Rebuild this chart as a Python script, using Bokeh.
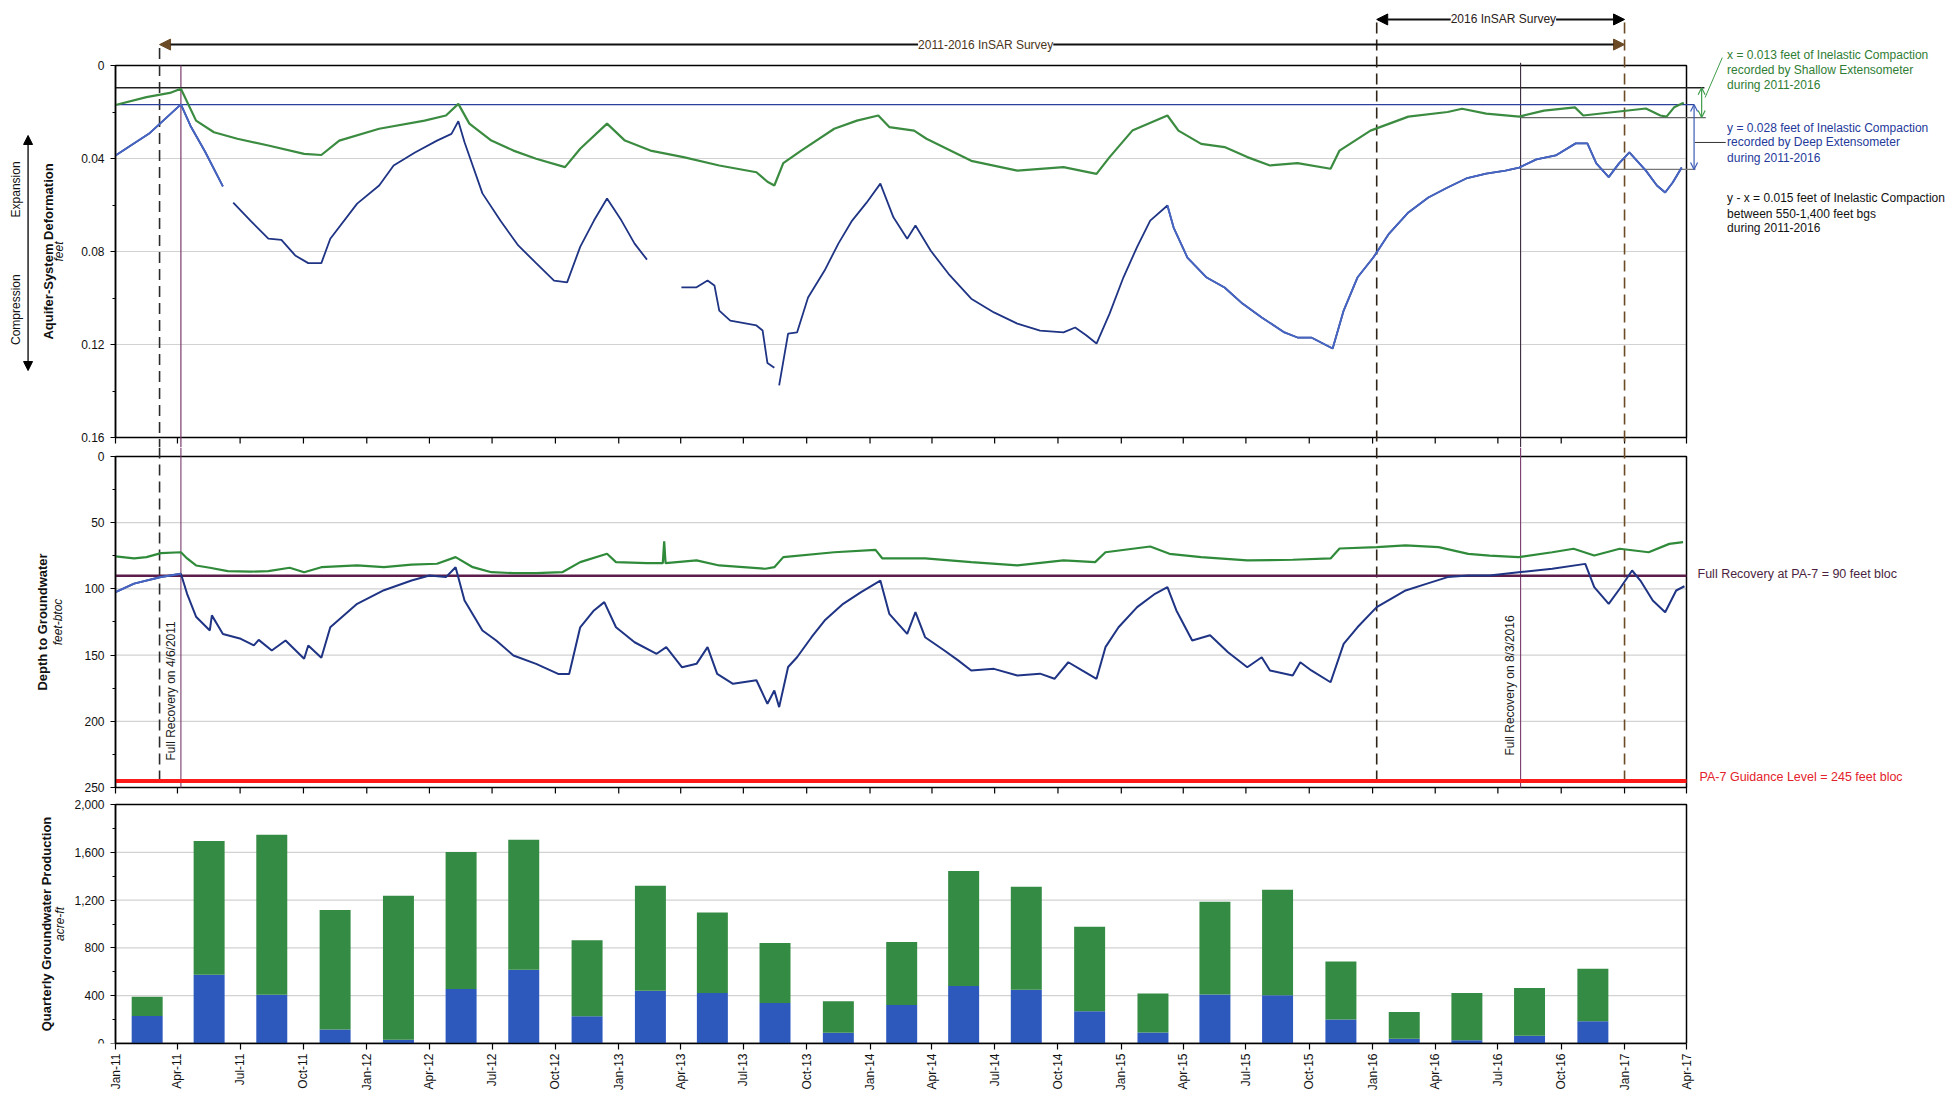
import math
import numpy as np
import pandas as pd
from bokeh.plotting import figure
from bokeh.layouts import column
from bokeh.models import (Range1d, Label, Arrow, NormalHead, OpenHead,
                          MonthsTicker, DatetimeTickFormatter, NumeralTickFormatter,
                          FixedTicker)
from bokeh.embed import file_html
from bokeh.resources import INLINE

# ---------------------------------------------------------------- data
# Top panel: aquifer-system deformation (feet), shallow extensometer
shallow_ext = [
    ("2011-01-01", 0.0170), ("2011-02-15", 0.0136), ("2011-03-21", 0.0118), ("2011-04-06", 0.0100),
    ("2011-04-28", 0.0237), ("2011-05-24", 0.0287), ("2011-06-27", 0.0315), ("2011-08-11", 0.0344),
    ("2011-10-02", 0.0380), ("2011-10-27", 0.0385), ("2011-11-22", 0.0323), ("2012-01-19", 0.0272),
    ("2012-03-25", 0.0237), ("2012-04-25", 0.0215), ("2012-05-13", 0.0165), ("2012-05-29", 0.0250),
    ("2012-06-30", 0.0323), ("2012-08-01", 0.0366), ("2012-09-03", 0.0401), ("2012-10-15", 0.0437),
    ("2012-11-06", 0.0358), ("2012-12-15", 0.0250), ("2013-01-10", 0.0323), ("2013-02-16", 0.0366),
    ("2013-04-05", 0.0394), ("2013-05-27", 0.0430), ("2013-07-20", 0.0459), ("2013-08-05", 0.0500),
    ("2013-08-15", 0.0516), ("2013-08-28", 0.0420), ("2013-09-23", 0.0366), ("2013-11-10", 0.0272),
    ("2013-12-13", 0.0237), ("2014-01-13", 0.0215), ("2014-01-29", 0.0265), ("2014-03-06", 0.0280),
    ("2014-03-24", 0.0315), ("2014-05-28", 0.0410), ("2014-08-03", 0.0452), ("2014-10-09", 0.0437),
    ("2014-11-26", 0.0466), ("2014-12-15", 0.0394), ("2015-01-17", 0.0280), ("2015-03-09", 0.0215),
    ("2015-03-25", 0.0280), ("2015-04-27", 0.0337), ("2015-05-31", 0.0351), ("2015-07-03", 0.0394),
    ("2015-08-05", 0.0430), ("2015-09-14", 0.0420), ("2015-11-01", 0.0444), ("2015-11-14", 0.0366),
    ("2015-12-29", 0.0280), ("2016-02-22", 0.0220), ("2016-04-19", 0.0200), ("2016-05-10", 0.0186),
    ("2016-06-14", 0.0207), ("2016-08-01", 0.0220), ("2016-09-06", 0.0194), ("2016-10-21", 0.0180),
    ("2016-11-02", 0.0215), ("2017-02-01", 0.0185), ("2017-02-22", 0.0215), ("2017-03-03", 0.0220),
    ("2017-03-14", 0.0180), ("2017-03-28", 0.0160),
]
# Top panel: deep extensometer (None = data gap)
deep_ext = [
    ("2011-01-01", 0.0387), ("2011-02-20", 0.0290), ("2011-04-06", 0.0167), ("2011-04-20", 0.0260),
    ("2011-05-11", 0.0370), ("2011-06-06", 0.0520), ("2011-06-14", None),
    ("2011-06-21", 0.0590), ("2011-07-16", 0.0667), ("2011-08-11", 0.0745), ("2011-08-30", 0.0750),
    ("2011-09-19", 0.0817), ("2011-10-08", 0.0850), ("2011-10-27", 0.0850), ("2011-11-09", 0.0745),
    ("2011-12-18", 0.0594), ("2012-01-19", 0.0516), ("2012-02-09", 0.0430), ("2012-03-11", 0.0374),
    ("2012-04-12", 0.0323), ("2012-05-03", 0.0294), ("2012-05-13", 0.0240), ("2012-05-22", 0.0330),
    ("2012-06-17", 0.0550), ("2012-07-13", 0.0667), ("2012-08-08", 0.0774), ("2012-09-03", 0.0850),
    ("2012-09-29", 0.0925), ("2012-10-18", 0.0933), ("2012-11-06", 0.0780), ("2012-11-26", 0.0667),
    ("2012-12-15", 0.0572), ("2013-01-05", 0.0667), ("2013-01-24", 0.0766), ("2013-02-11", 0.0835),
    ("2013-03-01", None),
    ("2013-04-02", 0.0954), ("2013-04-24", 0.0954), ("2013-05-10", 0.0925), ("2013-05-20", 0.0946),
    ("2013-05-27", 0.1054), ("2013-06-12", 0.1097), ("2013-07-20", 0.1118), ("2013-07-29", 0.1140),
    ("2013-08-05", 0.1280), ("2013-08-15", 0.1300), ("2013-08-18", None),
    ("2013-08-22", 0.1376), ("2013-09-04", 0.1153), ("2013-09-17", 0.1148), ("2013-10-03", 0.0998),
    ("2013-10-27", 0.0882), ("2013-11-16", 0.0766), ("2013-12-06", 0.0667), ("2013-12-27", 0.0590),
    ("2014-01-16", 0.0508), ("2014-02-04", 0.0653), ("2014-02-24", 0.0745), ("2014-03-08", 0.0688),
    ("2014-03-30", 0.0796), ("2014-04-25", 0.0896), ("2014-05-28", 0.1003), ("2014-06-30", 0.1062),
    ("2014-08-03", 0.1110), ("2014-09-05", 0.1140), ("2014-10-09", 0.1148), ("2014-10-26", 0.1127),
    ("2014-11-11", 0.1160), ("2014-11-26", 0.1196), ("2014-12-15", 0.1067), ("2015-01-04", 0.0912),
    ("2015-01-24", 0.0780), ("2015-02-12", 0.0667), ("2015-03-09", 0.0602), ("2015-03-18", 0.0697),
    ("2015-04-07", 0.0826), ("2015-05-05", 0.0912), ("2015-05-31", 0.0955), ("2015-06-26", 0.1024),
    ("2015-07-24", 0.1084), ("2015-08-26", 0.1148), ("2015-09-14", 0.1170), ("2015-10-04", 0.1170),
    ("2015-11-04", 0.1217), ("2015-11-20", 0.1054), ("2015-12-10", 0.0912), ("2016-01-02", 0.0826),
    ("2016-01-25", 0.0723), ("2016-02-22", 0.0632), ("2016-03-22", 0.0568), ("2016-04-19", 0.0525),
    ("2016-05-16", 0.0486), ("2016-06-14", 0.0465), ("2016-07-12", 0.0452), ("2016-08-01", 0.0439),
    ("2016-08-26", 0.0404), ("2016-09-23", 0.0387), ("2016-10-22", 0.0335), ("2016-11-08", 0.0335),
    ("2016-11-21", 0.0421), ("2016-12-09", 0.0480), ("2016-12-24", 0.0421), ("2017-01-08", 0.0374),
    ("2017-02-01", 0.0452), ("2017-02-17", 0.0516), ("2017-03-01", 0.0546), ("2017-03-12", 0.0503),
    ("2017-03-25", 0.0439),
]
deep_ext_light_periods = [("2011-01-01", "2011-06-10"), ("2015-03-09", "2017-04-01")]

# Middle panel: depth to groundwater (feet-btoc)
shallow_well = [
    ("2011-01-01", 75.5), ("2011-01-28", 77.0), ("2011-02-15", 76.0), ("2011-03-08", 73.0),
    ("2011-04-06", 72.3), ("2011-04-15", 77.0), ("2011-04-28", 82.3), ("2011-05-18", 84.0),
    ("2011-06-13", 86.6), ("2011-07-16", 87.0), ("2011-08-11", 86.6), ("2011-09-11", 84.0),
    ("2011-10-02", 87.4), ("2011-10-27", 83.6), ("2011-12-18", 82.3), ("2012-01-26", 83.6),
    ("2012-03-06", 81.6), ("2012-04-12", 81.0), ("2012-05-09", 76.0), ("2012-06-03", 83.6),
    ("2012-06-30", 87.4), ("2012-08-01", 88.1), ("2012-09-03", 88.1), ("2012-10-11", 87.4),
    ("2012-11-06", 79.8), ("2012-12-15", 73.5), ("2012-12-28", 79.8), ("2013-02-11", 80.6),
    ("2013-03-06", 80.5), ("2013-03-08", 64.0), ("2013-03-10", 80.5), ("2013-04-24", 78.5),
    ("2013-05-27", 82.3), ("2013-08-02", 84.8), ("2013-08-15", 83.6), ("2013-08-28", 76.0),
    ("2013-11-10", 72.3), ("2014-01-09", 70.5), ("2014-01-19", 77.0), ("2014-03-22", 77.0),
    ("2014-05-28", 79.8), ("2014-08-03", 82.3), ("2014-10-09", 78.5), ("2014-11-24", 79.8),
    ("2014-12-09", 72.3), ("2015-02-12", 68.0), ("2015-03-12", 73.5), ("2015-04-27", 76.0),
    ("2015-07-03", 78.5), ("2015-09-07", 78.0), ("2015-11-01", 77.0), ("2015-11-14", 69.5),
    ("2016-01-07", 68.5), ("2016-02-18", 67.2), ("2016-04-06", 68.5), ("2016-05-19", 73.5),
    ("2016-06-19", 74.8), ("2016-07-31", 76.0), ("2016-09-18", 72.3), ("2016-10-19", 69.7),
    ("2016-11-18", 74.8), ("2016-12-25", 69.7), ("2017-02-05", 72.3), ("2017-03-07", 66.0),
    ("2017-03-27", 64.7),
]
deep_well = [
    ("2011-01-01", 102.5), ("2011-01-28", 96.0), ("2011-03-08", 91.0), ("2011-04-06", 88.6),
    ("2011-04-15", 103.7), ("2011-04-28", 121.0), ("2011-05-18", 131.4), ("2011-05-21", 120.0),
    ("2011-06-06", 134.0), ("2011-07-02", 137.7), ("2011-07-21", 142.7), ("2011-07-28", 138.5),
    ("2011-08-16", 146.5), ("2011-09-05", 139.0), ("2011-10-02", 152.8), ("2011-10-08", 142.7),
    ("2011-10-27", 152.0), ("2011-11-09", 129.0), ("2011-12-18", 111.3), ("2012-01-26", 101.0),
    ("2012-03-06", 93.7), ("2012-04-01", 89.9), ("2012-04-25", 91.1), ("2012-05-09", 83.6),
    ("2012-05-22", 108.8), ("2012-06-17", 131.4), ("2012-07-07", 139.0), ("2012-08-01", 150.3),
    ("2012-09-03", 156.6), ("2012-10-05", 164.2), ("2012-10-21", 164.2), ("2012-11-06", 129.0),
    ("2012-11-26", 116.3), ("2012-12-11", 110.0), ("2012-12-28", 129.0), ("2013-01-24", 140.3),
    ("2013-02-25", 149.0), ("2013-03-11", 144.0), ("2013-04-03", 159.2), ("2013-04-24", 156.6),
    ("2013-05-10", 144.0), ("2013-05-24", 164.2), ("2013-06-16", 171.7), ("2013-07-20", 169.0),
    ("2013-08-05", 186.8), ("2013-08-15", 176.7), ("2013-08-22", 189.3), ("2013-09-04", 159.0),
    ("2013-09-17", 151.6), ("2013-10-08", 136.5), ("2013-10-27", 123.9), ("2013-11-23", 111.3),
    ("2013-12-19", 102.5), ("2014-01-16", 93.7), ("2014-01-29", 118.8), ("2014-02-24", 134.0),
    ("2014-03-08", 117.6), ("2014-03-22", 136.5), ("2014-04-19", 146.5), ("2014-05-09", 154.0),
    ("2014-05-28", 161.6), ("2014-06-30", 160.4), ("2014-08-03", 165.4), ("2014-09-05", 164.0),
    ("2014-09-26", 167.9), ("2014-10-16", 155.4), ("2014-11-05", 161.6), ("2014-11-26", 167.9),
    ("2014-12-09", 144.0), ("2014-12-28", 129.0), ("2015-01-24", 113.8), ("2015-02-19", 103.7),
    ("2015-03-09", 98.7), ("2015-03-22", 116.3), ("2015-04-14", 139.0), ("2015-05-10", 135.0),
    ("2015-06-05", 147.8), ("2015-07-03", 159.2), ("2015-07-24", 151.6), ("2015-08-05", 161.6),
    ("2015-09-07", 165.4), ("2015-09-18", 155.4), ("2015-10-04", 161.6), ("2015-11-01", 170.5),
    ("2015-11-20", 141.5), ("2015-12-10", 129.0), ("2016-01-07", 113.8), ("2016-02-18", 101.2),
    ("2016-03-19", 96.2), ("2016-04-19", 91.1), ("2016-05-19", 89.9), ("2016-06-19", 89.9),
    ("2016-07-31", 87.4), ("2016-09-18", 84.8), ("2016-11-05", 81.1), ("2016-11-18", 98.7),
    ("2016-12-09", 111.3), ("2016-12-25", 99.9), ("2017-01-12", 86.1), ("2017-01-24", 93.7),
    ("2017-02-11", 108.8), ("2017-03-01", 117.6), ("2017-03-17", 101.2), ("2017-03-29", 98.0),
]
deep_well_light_periods = [("2011-01-01", "2011-04-06")]

# Bottom panel: quarterly groundwater production (acre-ft), Q1 2011 .. Q4 2016
quarters = ["2011Q1", "2011Q2", "2011Q3", "2011Q4", "2012Q1", "2012Q2", "2012Q3", "2012Q4",
            "2013Q1", "2013Q2", "2013Q3", "2013Q4", "2014Q1", "2014Q2", "2014Q3", "2014Q4",
            "2015Q1", "2015Q2", "2015Q3", "2015Q4", "2016Q1", "2016Q2", "2016Q3", "2016Q4"]
prod_total = [392, 1694, 1747, 1117, 1236, 1603, 1706, 864, 1320, 1097, 842, 353,
              850, 1444, 1311, 978, 419, 1186, 1286, 686, 264, 422, 464, 625]
prod_blue = [231, 575, 408, 117, 31, 456, 617, 228, 442, 422, 339, 89,
             322, 481, 450, 269, 92, 411, 403, 200, 39, 28, 64, 186]

# Reference levels / events
full_recovery_ft = 90
guidance_level_ft = 245
survey_dates = ["2011-03-06", "2016-01-07", "2017-01-01"]
recovery_dates = ["2011-04-06", "2016-08-03"]
shallow_top, shallow_bottom = 0.0096, 0.0224   # x = 0.013
deep_top, deep_bottom = 0.0168, 0.0447         # y = 0.028
top_ticks = [0, 0.04, 0.08, 0.12, 0.16]
mid_ticks = [0, 50, 100, 150, 200, 250]
bot_ticks = [0, 400, 800, 1200, 1600, 2000]

# ---------------------------------------------------------------- styling
FONT = "Liberation Sans"
GREEN = "#3b8b40"
NAVY = "#1f3484"
LIGHTBLUE = "#4766c4"
PURPLE = "#5c1d4b"
BROWN = "#6b4a26"
GRID = "#d2d2d2"

DAY = 86400000.0


def ms(s):
    return pd.Timestamp(s).value / 1e6


T0, T1 = ms("2011-01-01"), ms("2017-04-01")


def split(series):
    d = pd.to_datetime([a for a, _ in series])
    v = np.array([np.nan if b is None else b for _, b in series], dtype=float)
    return d, v


def masked(dates, vals, periods):
    out = np.full(len(vals), np.nan)
    for a, b in periods:
        m = (dates >= pd.Timestamp(a)) & (dates <= pd.Timestamp(b))
        out[m] = vals[m]
    return out


# frames cover the whole page width; the chart boxes are drawn at Jan-11 .. Apr-17
FW = 1958
xr = Range1d(T0 - 167.05 * DAY, T0 + 2677.1 * DAY)
quarter_ticks = pd.date_range("2011-01-01", "2017-04-01", freq="QS")


def make_fig(y_range, fh, box_top, box_bottom, ticks, minor, tick_len):
    p = figure(x_axis_type="datetime", x_range=xr, y_range=y_range,
               frame_width=FW, frame_height=fh, min_border=0,
               output_backend="svg", toolbar_location=None)
    p.outline_line_color = None
    p.xgrid.visible = False
    p.ygrid.visible = False
    ax = p.yaxis[0]
    ax.fixed_location = T0
    ax.bounds = (min(box_top, box_bottom), max(box_top, box_bottom))
    ax.ticker = FixedTicker(ticks=ticks, minor_ticks=minor)
    ax.axis_line_width = 1.5
    ax.major_tick_out = 5
    ax.major_tick_in = 0
    ax.minor_tick_out = 3
    ax.minor_tick_in = 0
    ax.major_label_text_font = FONT
    ax.major_label_text_font_size = "12px"
    ax.major_label_text_color = "#111111"
    ax.major_label_standoff = 6
    # grid lines restricted to the chart box
    inner = [t for t in ticks if t not in (box_top, box_bottom)]
    p.segment(x0=[T0] * len(inner), x1=[T1] * len(inner), y0=inner, y1=inner,
              line_color=GRID, line_width=1.2)
    # chart box
    p.quad(left=[T0], right=[T1], top=[box_top], bottom=[box_bottom],
           fill_color=None, line_color="black", line_width=1.5)
    if tick_len is not None:
        p.xaxis.visible = False
        n = len(quarter_ticks)
        p.segment(x0=quarter_ticks, x1=quarter_ticks, y0=[box_bottom] * n,
                  y1=[box_bottom + tick_len] * n, line_color="black", line_width=1.2)
    return p


def txt(p, text, x, y, style="normal", size="12px", angle=0.0, color="#111111",
        align="left", baseline="middle", font=FONT, bg=None):
    p.add_layout(Label(x=x, y=y, text=text, angle=angle, text_font=font,
                       text_font_size=size, text_font_style=style, text_color=color,
                       text_align=align, text_baseline=baseline,
                       background_fill_color=bg))


def seg(p, x0, y0, x1, y1, color="black", width=1.5, dash="solid"):
    p.segment(x0=[x0], y0=[y0], x1=[x1], y1=[y1], line_color=color,
              line_width=width, line_dash=dash)


def arrow(p, x0, y0, x1, y1, color, head_color, size=11, width=1.5, open_head=False):
    if open_head:
        h1 = OpenHead(size=size, line_color=head_color, line_width=width)
        h2 = OpenHead(size=size, line_color=head_color, line_width=width)
    else:
        h1 = NormalHead(size=size, fill_color=head_color, line_color=head_color)
        h2 = NormalHead(size=size, fill_color=head_color, line_color=head_color)
    p.add_layout(Arrow(x_start=x0, y_start=y0, x_end=x1, y_end=y1, start=h1, end=h2,
                       line_color=color, line_width=width))


V = math.pi / 2

# ---------------------------------------------------------------- top panel
p1 = make_fig(Range1d(0.164301, -0.027957), 447, 0, 0.16, top_ticks,
              [0.02, 0.06, 0.10, 0.14], 0.0026)
p1.yaxis.major_label_overrides = {0: "0"}

dash_cols = ["#2a2a2a", "#2e2418", BROWN]
dash_tops = [-0.0075, -0.0185, -0.0185]
for d, c, t in zip(survey_dates, dash_cols, dash_tops):
    seg(p1, ms(d), t, ms(d), 0.164301, color=c, width=1.6, dash="11 6")
seg(p1, ms(recovery_dates[0]), 0, ms(recovery_dates[0]), 0.164301, color="#7b3b6b", width=1.2)
seg(p1, ms(recovery_dates[1]), -0.0012, ms(recovery_dates[1]), 0.164301, color="#3a2a3a", width=1.1)

# reference levels
seg(p1, T0, shallow_top, ms("2017-04-27"), shallow_top, color="#222222", width=1.5)
seg(p1, T0, deep_top, ms("2017-04-12"), deep_top, color="#2b3f9c", width=1.3)
seg(p1, ms("2016-08-03"), shallow_bottom, ms("2017-04-29"), shallow_bottom, color="#666666", width=1.2)
seg(p1, ms("2016-08-03"), deep_bottom, ms("2017-04-14"), deep_bottom, color="#777777", width=1.2)

sd, sv = split(shallow_ext)
p1.line(sd, sv, line_color=GREEN, line_width=2.2)
dd, dv = split(deep_ext)
p1.line(dd, dv, line_color=NAVY, line_width=1.8)
p1.line(dd, masked(dd, dv, deep_ext_light_periods), line_color=LIGHTBLUE, line_width=1.8)

# survey arrows above the chart box
arrow(p1, ms(survey_dates[0]), -0.009, ms(survey_dates[2]), -0.009, "#111111", BROWN, width=2)
txt(p1, "2011-2016 InSAR Survey", ms("2014-06-18"), -0.009, color="#4a3520",
    align="center", bg="white")
arrow(p1, ms(survey_dates[1]), -0.0198, ms(survey_dates[2]), -0.0198, "#111111", "black", width=2)
txt(p1, "2016 InSAR Survey", ms("2016-07-09"), -0.0198, color="#2a2018",
    align="center", bg="white")

# compaction brackets on the right
arrow(p1, ms("2017-04-23"), shallow_top, ms("2017-04-23"), shallow_bottom, "#3f9c4b", "#3f9c4b",
      size=7, width=1.2, open_head=True)
arrow(p1, ms("2017-04-12"), deep_top, ms("2017-04-12"), deep_bottom, "#3b5bb5", "#3b5bb5",
      size=7, width=1.2, open_head=True)
seg(p1, ms("2017-04-28"), 0.0138, ms("2017-05-23"), -0.0034, color="#3f9c4b", width=1)
seg(p1, ms("2017-04-13"), 0.0331, ms("2017-05-28"), 0.0331, color="#333333", width=1)

x_txt = ms("2017-05-30")
for t, yy in zip(["x = 0.013 feet of Inelastic Compaction", "recorded by Shallow Extensometer",
                  "during 2011-2016"], [-0.0046, 0.00215, 0.0086]):
    txt(p1, t, x_txt, yy, size="12px", color="#2f7d33")
for t, yy in zip(["y = 0.028 feet of Inelastic Compaction", "recorded by Deep Extensometer",
                  "during 2011-2016"], [0.0267, 0.0331, 0.0396]):
    txt(p1, t, x_txt, yy, size="12px", color="#24399a")
for t, yy in zip(["y - x = 0.015 feet of Inelastic Compaction", "between 550-1,400 feet bgs",
                  "during 2011-2016"], [0.0572, 0.0637, 0.0701]):
    txt(p1, t, x_txt, yy, size="12px", color="#111111")

# left-side titles
txt(p1, "Aquifer-System Deformation", ms("2010-09-25"), 0.08, style="bold", size="13px",
    angle=V, align="center")
txt(p1, "feet", ms("2010-10-11"), 0.08, style="italic", size="12px", angle=V, align="center")
txt(p1, "Expansion", ms("2010-08-10"), 0.0533, angle=V, align="center")
txt(p1, "Compression", ms("2010-08-10"), 0.105, angle=V, align="center")
arrow(p1, ms("2010-08-27"), 0.0301, ms("2010-08-27"), 0.1312, "black", "black", size=9, width=1.3)

# ---------------------------------------------------------------- middle panel
p2 = make_fig(Range1d(257.553, -6.797), 350, 0, 250, mid_ticks,
              [25, 75, 125, 175, 225], 4.5)

for d, c in zip(survey_dates, dash_cols):
    seg(p2, ms(d), -6.797, ms(d), 245, color=c, width=1.6, dash="11 6")
for d in recovery_dates:
    seg(p2, ms(d), -6.797, ms(d), 250, color="#7b3b6b", width=1.1)
seg(p2, T0, guidance_level_ft, T1, guidance_level_ft, color="#ff1a1a", width=4)

gd, gv = split(shallow_well)
p2.line(gd, gv, line_color="#2f8a3a", line_width=2.2)
seg(p2, T0, full_recovery_ft, T1, full_recovery_ft, color=PURPLE, width=2.5)
wd, wv = split(deep_well)
p2.line(wd, wv, line_color=NAVY, line_width=2)
p2.line(wd, masked(wd, wv, deep_well_light_periods), line_color=LIGHTBLUE, line_width=2)

txt(p2, "Full Recovery on 4/6/2011", ms("2011-04-02"), 229.6, angle=V, baseline="bottom",
    color="#1a1a1a")
txt(p2, "Full Recovery on 8/3/2016", ms("2016-07-29"), 225.8, angle=V, baseline="bottom",
    color="#1a1a1a")
txt(p2, "Full Recovery at PA-7 = 90 feet bloc", ms("2017-04-17"), 88.4, color="#4b1f40",
    size="12.5px")
txt(p2, "PA-7 Guidance Level = 245 feet bloc", ms("2017-04-20"), 242.4, color="#e3222b",
    size="12.5px")
txt(p2, "Depth to Groundwater", ms("2010-09-17"), 125, style="bold", size="13px", angle=V,
    align="center")
txt(p2, "feet-btoc", ms("2010-10-10"), 125, style="italic", size="12px", angle=V, align="center")

# ---------------------------------------------------------------- bottom panel
p3 = make_fig(Range1d(0, 2058.6), 246, 2000, 0, bot_ticks,
              [200, 600, 1000, 1400, 1800], None)
p3.yaxis.formatter = NumeralTickFormatter(format="0,0")
xa = p3.xaxis[0]
xa.bounds = (T0, T1)
xa.ticker = MonthsTicker(months=[0, 3, 6, 9])
xa.formatter = DatetimeTickFormatter(months="%b-%y", days="%b-%y", years="%b-%y")
xa.minor_tick_line_color = None
xa.major_tick_out = 6
xa.major_tick_in = 0
xa.axis_line_width = 1.5
xa.major_tick_line_width = 1.2
xa.major_label_orientation = V
xa.major_label_text_font = FONT
xa.major_label_text_font_size = "12px"
xa.major_label_text_color = "#111111"
xa.major_label_standoff = 4

q_start = pd.PeriodIndex(quarters, freq="Q").start_time
centers = q_start + pd.Timedelta(days=46)
bar_w = 45 * DAY
p3.vbar(x=centers, width=bar_w, bottom=0, top=prod_blue, fill_color="#2d59bd", line_color=None)
p3.vbar(x=centers, width=bar_w, bottom=prod_blue, top=prod_total, fill_color="#348b43", line_color=None)
txt(p3, "Quarterly Groundwater Production", ms("2010-09-23"), 1000, style="bold", size="13px",
    angle=V, align="center")
txt(p3, "acre-ft", ms("2010-10-13"), 1000, style="italic", size="12px", angle=V, align="center")

layout = column(p1, p2, p3)
open("out.html", "w").write(file_html(layout, INLINE))
